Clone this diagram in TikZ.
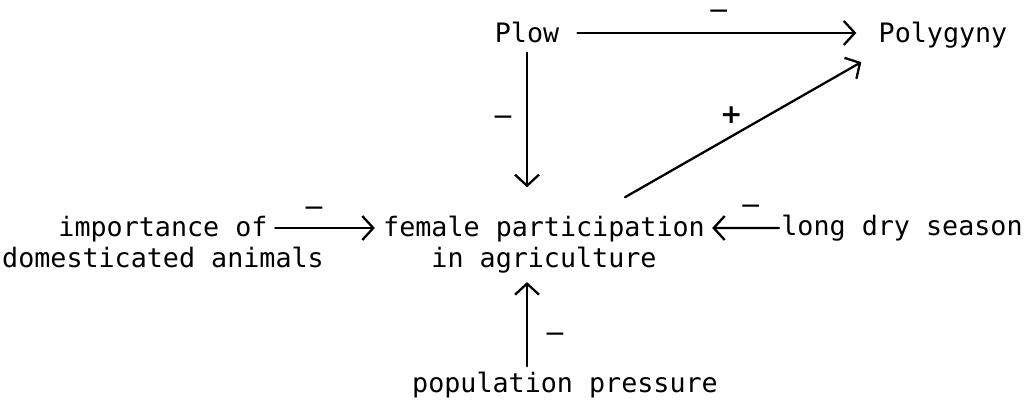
\documentclass[tikz,border=0pt]{standalone}
\usepackage{fontspec}
\setmonofont{DejaVu Sans Mono}
\setsansfont{DejaVu Sans}
\usetikzlibrary{arrows.meta}
\tikzset{
  var/.style={font=\ttfamily\fontsize{15.2}{18.2}\selectfont,inner sep=0pt,anchor=base,align=center},
  pfeil/.style={-{Straight Barb[length=2.2mm,width=4.8mm]},line width=1.3pt,line cap=round},
  vz/.style={font=\sffamily\fontsize{15.2}{16}\selectfont,inner sep=0pt},
}

\begin{document}
\begin{tikzpicture}
  \useasboundingbox (0,0) rectangle (20.5,8);
  \node[var] (plow) at (10.54,7.14) {Plow};
  \node[var] (polyg) at (18.86,7.14) {Polygyny};
  \node[var] (fem) at (10.88,2.64) {female participation\\in agriculture};
  \node[var] (anim) at (3.26,2.64) {importance of\\domesticated animals};
  \node[var] (dry) at (18.04,3.28) {long dry season};
  \node[var] (pop) at (11.30,0.14) {population pressure};

  \draw[pfeil,shorten <=0.36cm,shorten >=0.44cm] (plow.east) -- (plow.east -| polyg.west)
    node[vz,midway,yshift=0.36cm] (s1) {−};
  \draw[pfeil,shorten <=0.18cm,shorten >=0.56cm] (plow.south) -- (plow.south |- fem.north)
    node[vz,pos=0.45,xshift=-0.48cm] (s2) {−};
  \draw[pfeil] ([xshift=1.62cm,yshift=0.36cm]fem.north) -- ([xshift=-0.34cm,yshift=-0.26cm]polyg.south west)
    node[vz,pos=0.45,yshift=0.42cm] (s3) {\textbf{+}};
  \draw[pfeil] ([xshift=-0.98cm,yshift=0.8cm]anim.base east) -- ([xshift=-0.16cm,yshift=0.8cm]fem.base west)
    node[vz,pos=0.39,yshift=0.32cm] (s4) {−};
  \draw[pfeil,shorten <=0.04cm,shorten >=0.14cm] ([yshift=0.16cm]dry.base west) -- ([yshift=0.8cm]fem.base east)
    node[vz,pos=0.4,yshift=0.36cm] (s5) {−};
  \draw[pfeil,shorten <=0.12cm,shorten >=0.16cm] (pop.north -| plow.south) -- (fem.south -| plow.south)
    node[vz,pos=0.35,xshift=0.56cm] (s6) {−};
\end{tikzpicture}
\end{document}
